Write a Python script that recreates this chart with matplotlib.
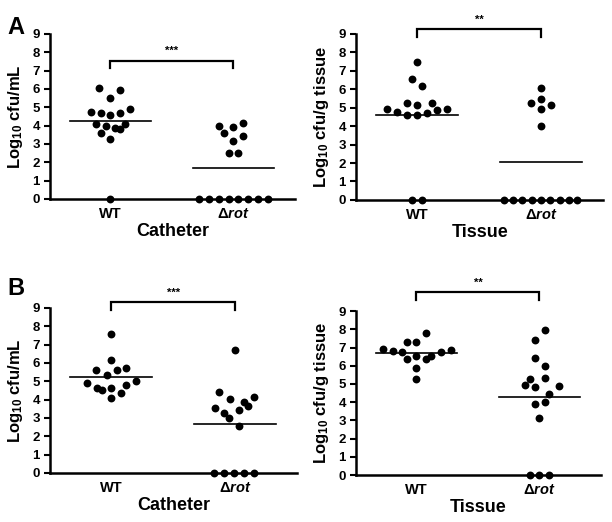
"""
Recreates the 2x2 dot plots (WT vs. rot mutant, catheter and tissue counts).
Output: out.png
"""
import numpy as np
import matplotlib
matplotlib.use("Agg")
import matplotlib.pyplot as plt

plt.rcParams["font.family"] = ["Liberation Sans", "DejaVu Sans"]
plt.rcParams["font.weight"] = "bold"
plt.rcParams["mathtext.fontset"] = "custom"
plt.rcParams["mathtext.rm"] = "Liberation Sans:bold"
plt.rcParams["mathtext.bf"] = "Liberation Sans:bold"
plt.rcParams["mathtext.it"] = "Liberation Sans:bold:italic"

# DATA (log10 counts)
groups = ["WT", r"$\Delta\mathit{rot}$"]

a_cath_wt  = [6.04, 5.93, 5.53, 4.76, 4.67, 4.58, 4.71, 4.93, 4.09, 3.95, 3.85, 4.09, 3.58, 3.82, 3.27, 0.0]
a_cath_rot = [3.98, 3.93, 4.15, 3.58, 3.44, 3.18, 2.49, 2.49, 0, 0, 0, 0, 0, 0, 0, 0]
a_tis_wt   = [7.49, 6.55, 6.15, 4.95, 4.77, 5.24, 5.12, 5.23, 4.61, 4.58, 4.74, 4.88, 4.95, 0, 0]
a_tis_rot  = [6.09, 5.24, 5.48, 5.14, 4.92, 4.01, 0, 0, 0, 0, 0, 0, 0, 0, 0]
b_cath_wt  = [7.56, 6.15, 5.64, 5.60, 5.36, 5.73, 4.93, 4.65, 4.55, 4.64, 4.78, 5.02, 4.38, 4.09]
b_cath_rot = [6.69, 4.42, 4.05, 4.15, 3.85, 3.67, 3.56, 3.27, 3.42, 3.02, 2.56, 0, 0, 0, 0, 0]
b_tis_wt   = [7.81, 7.33, 7.28, 6.91, 6.82, 6.75, 6.78, 6.86, 6.36, 6.51, 6.38, 6.53, 5.89, 5.27]
b_tis_rot  = [7.95, 7.40, 6.45, 5.98, 5.28, 5.30, 4.95, 4.84, 4.88, 4.44, 3.89, 4.02, 3.13, 0, 0, 0]

# horizontal scatter layout of the dots (same order as the values above)
a_cath_wt_dx  = [-0.09, 0.08, 0, -0.16, -0.08, 0, 0.08, 0.16, -0.12, -0.04, 0.04, 0.12, -0.08, 0.08, 0, 0]
a_cath_rot_dx = [-0.12, 0, 0.08, -0.08, 0.08, 0, -0.04, 0.04, -0.28, -0.20, -0.12, -0.04, 0.04, 0.12, 0.20, 0.28]
a_tis_wt_dx   = [0, -0.04, 0.04, -0.24, -0.16, -0.08, 0, 0.12, -0.08, 0, 0.08, 0.16, 0.24, -0.04, 0.04]
a_tis_rot_dx  = [0, -0.08, 0, 0.08, 0, 0, -0.30, -0.23, -0.155, -0.077, 0, 0.072, 0.147, 0.221, 0.291]
b_cath_wt_dx  = [0, 0, -0.12, 0.045, -0.035, 0.12, -0.19, -0.11, -0.07, 0, 0.12, 0.2, 0.08, 0]
b_cath_rot_dx = [0, -0.13, -0.045, 0.15, 0.07, 0.105, -0.165, -0.09, 0.026, -0.05, 0.026, -0.17, -0.09, -0.01, 0.07, 0.15]
b_tis_wt_dx   = [0.08, -0.08, 0, -0.27, -0.19, -0.115, 0.2, 0.28, -0.08, 0, 0.08, 0.12, 0, 0]
b_tis_rot_dx  = [0.043, -0.038, -0.038, 0.043, -0.078, 0.043, -0.118, -0.038, 0.16, 0.08, -0.038, 0.043, 0, -0.08, 0, 0.08]

stars = ["***", "**", "***", "**"]
xlabels = ["Catheter", "Tissue", "Catheter", "Tissue"]
ylabels = [r"Log$_{10}$ cfu/mL", r"Log$_{10}$ cfu/g tissue"] * 2

panels = [
    (a_cath_wt, a_cath_wt_dx, a_cath_rot, a_cath_rot_dx),
    (a_tis_wt, a_tis_wt_dx, a_tis_rot, a_tis_rot_dx),
    (b_cath_wt, b_cath_wt_dx, b_cath_rot, b_cath_rot_dx),
    (b_tis_wt, b_tis_wt_dx, b_tis_rot, b_tis_rot_dx),
]

# axes rectangles [left, bottom, width, height] and bracket heights
rects = [
    [0.082, 0.619, 0.400, 0.316],
    [0.582, 0.617, 0.404, 0.318],
    [0.082, 0.094, 0.404, 0.316],
    [0.582, 0.090, 0.400, 0.314],
]
bracket_y = [(7.13, 7.53), (8.82, 9.26), (8.90, 9.33), (9.63, 10.05)]

fig = plt.figure(figsize=(6.12, 5.22), dpi=100)

for i, (wt, wt_dx, rot, rot_dx) in enumerate(panels):
    ax = fig.add_axes(rects[i])
    for pos, vals, dx in [(1, wt, wt_dx), (2, rot, rot_dx)]:
        vals = np.array(vals)
        ax.scatter(pos + np.array(dx), vals, s=32, color="black",
                   zorder=3, clip_on=False, linewidths=0)
        ax.plot([pos - 0.33, pos + 0.33], [vals.mean()] * 2,
                color="black", lw=1.2, zorder=2)

    lo, hi = bracket_y[i]
    ax.plot([1, 1, 2, 2], [lo, hi, hi, lo], color="black", lw=1.6,
            clip_on=False, solid_joinstyle="miter")
    ax.text(1.5, hi + 0.25, stars[i], ha="center", va="bottom", fontsize=8)

    ax.set_xlim(0.51, 2.5)
    ax.set_ylim(0, 9)
    ax.set_yticks(range(10))
    ax.set_xticks([1, 2])
    ax.set_xticklabels(groups, fontsize=10.5, fontweight="bold")
    ax.tick_params(axis="y", labelsize=9.5, width=1.5, length=4)
    ax.tick_params(axis="x", length=0, pad=6)
    for lbl in ax.get_yticklabels():
        lbl.set_fontweight("bold")
    ax.set_xlabel(xlabels[i], fontsize=13, fontweight="bold", labelpad=1)
    ax.set_ylabel(ylabels[i], fontsize=12, fontweight="bold", labelpad=5)
    for side in ["top", "right"]:
        ax.spines[side].set_visible(False)
    for side in ["left", "bottom"]:
        ax.spines[side].set_linewidth(1.8)

fig.text(0.012, 0.935, "A", fontsize=17, fontweight="bold")
fig.text(0.012, 0.435, "B", fontsize=17, fontweight="bold")

fig.savefig("out.png", dpi=100)
